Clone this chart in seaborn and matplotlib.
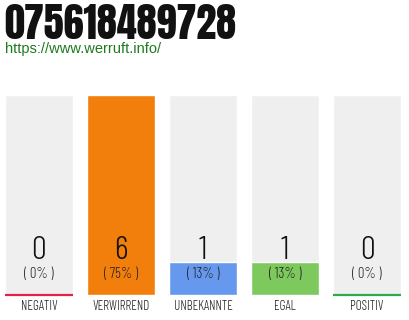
import matplotlib
matplotlib.use("Agg")
import matplotlib.pyplot as plt
import matplotlib.transforms as mtransforms
import seaborn as sns
import pandas as pd

# ---- data ----
categories = ["NEGATIV", "VERWIRREND", "UNBEKANNTE", "EGAL", "POSITIV"]
counts = [0, 6, 1, 1, 0]
percent_labels = ["( 0% )", "( 75% )", "( 13% )", "( 13% )", "( 0% )"]
bar_colors = ["#EFEFEF", "#F27E0C", "#6699EE", "#7DC95E", "#EFEFEF"]
title_text = "075618489728"
url_text = "https://www.werruft.info/"

sns.set_theme(style="white")
plt.rcParams["font.family"] = ["Barlow Condensed", "DejaVu Sans"]

fig = plt.figure(figsize=(4.1, 3.2), dpi=100)
W, H = 410, 320
ax = fig.add_axes([0, 25 / H, 1, 200 / H])

df = pd.DataFrame({"cat": categories, "count": counts,
                   "bg": [max(counts)] * len(counts)})
bw = 68 / 82
sns.barplot(data=df, x="cat", y="bg", color="#EFEFEF", saturation=1,
            width=bw, ax=ax, order=categories)
sns.barplot(data=df, x="cat", y="count", hue="cat", palette=bar_colors,
            saturation=1, width=bw, ax=ax, order=categories,
            hue_order=categories, legend=False)

ax.set_xlim(-39 / 82, -39 / 82 + W / 82)
ax.set_ylim(0, max(counts))
ax.axis("off")

# bottom accent lines for negative / positive
ax.hlines([0], [0 - bw / 2], [0 + bw / 2], colors="#E3224B", lw=1.6,
          clip_on=False)
ax.hlines([0], [4 - bw / 2], [4 + bw / 2], colors="#2EAA4A", lw=1.6,
          clip_on=False)

trans = mtransforms.blended_transform_factory(ax.transData, ax.transAxes)
for i, (c, p, lab) in enumerate(zip(counts, percent_labels, categories)):
    ax.text(i, 0.22, str(c), transform=trans, ha="center", va="center",
            fontsize=24, fontweight=300, color="#111111")
    ax.text(i, 0.105, p, transform=trans, ha="center", va="center",
            fontsize=10.5, fontweight=300, color="#222222")
    ax.text(i, -0.055, lab, transform=trans, ha="center", va="center",
            fontsize=9.5, fontweight=300, color="#222222", clip_on=False)

fig.text(4 / W, 1 - 39 / H, title_text, ha="left", va="baseline",
         fontsize=29, color="#111111", family=["Anton", "Oswald", "DejaVu Sans"])
fig.text(5 / W, 1 - 53 / H, url_text, ha="left", va="baseline",
         fontsize=10.5, color="#1E7A1E",
         family=["Liberation Sans", "DejaVu Sans"])

fig.savefig("out.png", dpi=100)
